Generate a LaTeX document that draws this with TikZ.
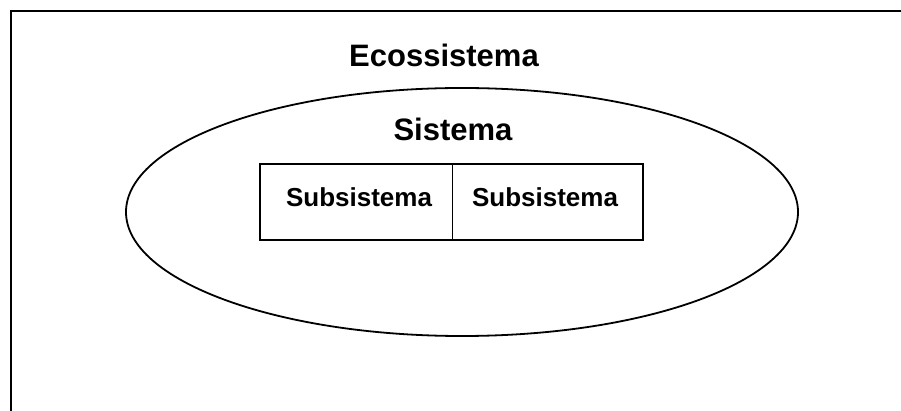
\documentclass[tikz,border=0pt]{standalone}
\usepackage{fontspec}
\setmainfont{Liberation Sans}
\begin{document}
\begin{tikzpicture}[x=1pt,y=-1pt,
  title/.style={font=\fontsize{31}{31}\selectfont\bfseries, inner sep=0pt, anchor=base},
  subtitle/.style={font=\fontsize{26}{26}\selectfont\bfseries, inner sep=0pt, anchor=base},
  part/.style={draw=black, line width=1.5pt, minimum height=76pt, inner sep=0pt}]
  \useasboundingbox (0,0) rectangle (901,411);
  % frame (top and left edges)
  \coordinate (fbl) at (11,411);
  \coordinate (ftl) at (11,11);
  \coordinate (ftr) at (901,11);
  \draw[line width=2.5pt] (fbl) -- (ftl) -- (ftr);
  % system ellipse
  \draw[line width=1.8pt] (462,212) ellipse [x radius=336, y radius=124];
  % subsystem boxes
  \node[part, minimum width=192.5pt] (s1) at (356.25,202) {};
  \node[part, minimum width=190.5pt] (s2) at (547.75,202) {};
  % labels
  \node[title] (eco) at (444,67) {Ecossistema};
  \node[title] (sis) at (453,141) {Sistema};
  \node[subtitle] (l1) at (359,207) {Subsistema};
  \node[subtitle] (l2) at (545,207) {Subsistema};
\end{tikzpicture}
\end{document}
